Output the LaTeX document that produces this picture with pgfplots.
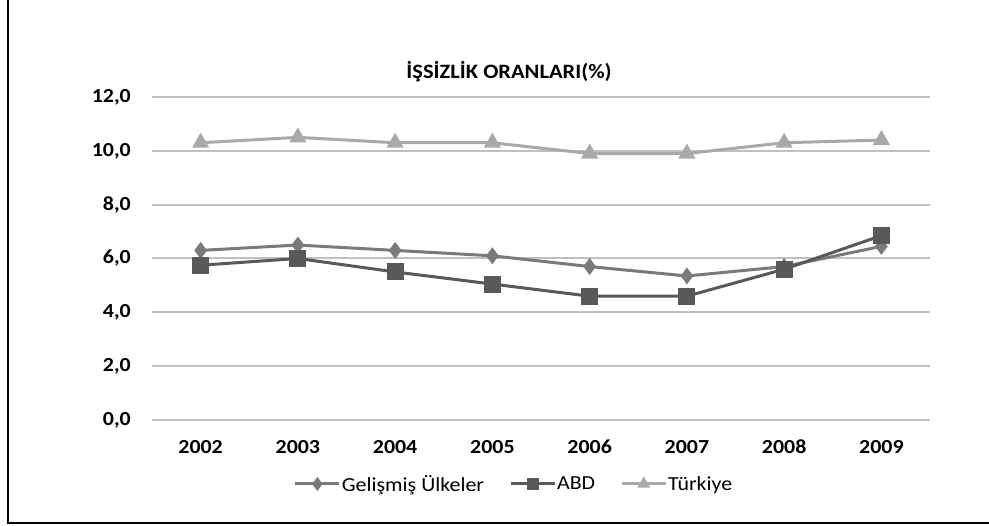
\documentclass[border=0pt]{standalone}
\usepackage{pgfplots}
\pgfplotsset{compat=1.18}
\usepackage{fontspec}
\setmainfont{Carlito}[FakeStretch=1.1]
\definecolor{gelc}{HTML}{7A7A7A}
\definecolor{abdc}{HTML}{595959}
\definecolor{turc}{HTML}{A9A9A9}
\definecolor{gridc}{HTML}{C0C0C0}
\begin{document}
\begin{tikzpicture}[x=1bp,y=1bp]
\useasboundingbox (0,0) rectangle (989,526);
\draw[black, line width=2bp] (7.5,526) -- (7.5,2.5) -- (989,2.5);
\node[font=\fontsize{20.5}{24}\selectfont\bfseries] at (509,454) {İŞSİZLİK ORANLARI(\%)};
\begin{axis}[
  at={(152bp,106bp)}, anchor=south west,
  scale only axis, width=778bp, height=323bp,
  xmin=-0.5, xmax=7.5, ymin=0, ymax=12,
  xtick={0,1,2,3,4,5,6,7},
  xticklabels={2002,2003,2004,2005,2006,2007,2008,2009},
  ytick={0,2,4,6,8,10,12},
  axis line style={draw=none},
  major tick length=0pt,
  ymajorgrids, grid style={gridc, line width=2bp},
  clip=false,
  tick label style={font=\fontsize{20}{24}\selectfont\bfseries},
  /pgf/number format/assume math mode=true,
  yticklabel={\pgfmathprintnumber[fixed,fixed zerofill,precision=1,use comma]{\tick}},
  yticklabel style={inner sep=0pt, anchor=east, xshift=-21bp},
  xticklabel style={inner sep=0pt, anchor=north, yshift=-20bp},
  legend columns=3,
  legend style={at={(0.4647,-0.198)}, anchor=center, draw=none, fill=none,
    font=\fontsize{20}{24}\selectfont, inner sep=0pt,
    /tikz/every even column/.append style={column sep=24bp},
    nodes={inner sep=1bp}},
  legend image code/.code={\draw[#1, mark size=4.5bp, mark repeat=2, mark phase=2] plot coordinates {(0bp,0bp) (22bp,0bp) (44bp,0bp)};},
]
\addplot[gelc, line width=3bp, mark=diamond*, mark size=6bp, mark options={solid, fill=gelc}]
  coordinates {(0,6.3) (1,6.5) (2,6.3) (3,6.1) (4,5.7) (5,5.35) (6,5.7) (7,6.45)};
\addlegendentry{Gelişmiş Ülkeler}
\addplot[abdc, line width=3bp, mark=square*, mark size=7bp, mark options={solid, fill=abdc}]
  coordinates {(0,5.75) (1,6.0) (2,5.5) (3,5.05) (4,4.6) (5,4.6) (6,5.6) (7,6.85)};
\addlegendentry{ABD}
\addplot[turc, line width=3bp, mark=triangle*, mark size=7bp, mark options={solid, fill=turc}]
  coordinates {(0,10.3) (1,10.5) (2,10.3) (3,10.3) (4,9.9) (5,9.9) (6,10.3) (7,10.4)};
\addlegendentry{Türkiye}
\end{axis}
\end{tikzpicture}
\end{document}
